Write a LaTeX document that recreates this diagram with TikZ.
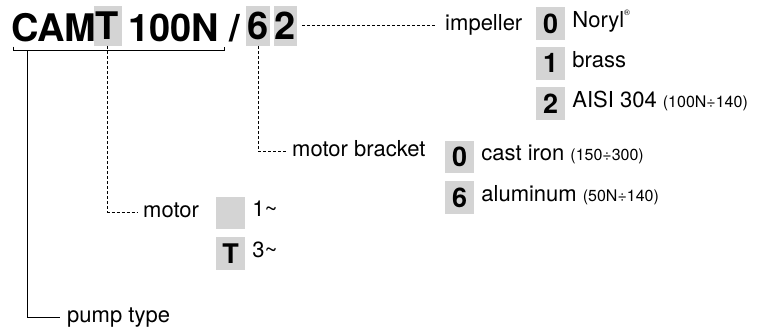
\documentclass[tikz,border=0pt]{standalone}
\usepackage{fontspec}
\setmainfont{TeX Gyre Heros}
\usepackage{xcolor}
\usetikzlibrary{positioning}
\definecolor{boxgray}{RGB}{212,212,212}

\tikzset{
  code/.style={font=\fontsize{38}{38}\selectfont\bfseries, inner sep=0pt, anchor=base west},
  codebox/.style={font=\fontsize{38}{38}\selectfont\bfseries, inner sep=0pt, fill=boxgray, minimum height=40pt},
  optbox/.style={fill=boxgray, minimum width=29pt, minimum height=32.5pt, inner sep=0pt, font=\fontsize{27}{27}\selectfont\bfseries},
  lbl/.style={font=\fontsize{22}{24}\selectfont, inner sep=0pt, text height=11.5pt, text depth=0pt, anchor=west},
  lead/.style={line width=0.7pt, dash pattern=on 3pt off 2pt},
  bracket/.style={line width=1pt}
}
\newcommand{\rng}[1]{{\fontsize{16}{16}\selectfont(#1)}}

\begin{document}
\begin{tikzpicture}[x=1pt,y=-1pt]
  \useasboundingbox (0,0) rectangle (768,327);

  % the code
  \node[code] (cam) at (11,41) {CAM};
  \node[codebox, minimum width=28pt] (tcode) at (107.5,26) {T};
  \node[code] (size) at (128,41) {100N};
  \node[code] (slash) at (229,41) {/};
  \node[codebox, minimum width=24pt] (bcode) at (258,26) {6};
  \node[codebox, minimum width=23pt] (icode) at (285.5,26) {2};

  % bracket under the pump type
  \coordinate (brl) at (13,50);
  \coordinate (brr) at (224,50);
  \coordinate (pumptap) at (27,50);
  \draw[bracket] ([yshift=3.5pt]brl) -- (brl) -- (brr) -- ([yshift=3.5pt]brr);

  % labels
  \node[lbl] (pump) at (67,317) {pump type};
  \node[lbl] (motor) at (143,212) {motor};
  \node[lbl] (mbracket) at (292,151) {motor bracket};
  \node[lbl] (imp) at (445,25) {impeller};

  \draw[bracket] (pumptap) |- ([xshift=-7pt]pump.west);
  \draw[lead] (tcode.south) |- ([xshift=-6pt]motor.west);
  \draw[lead] (bcode.south) |- ([xshift=-5pt]mbracket.west);
  \draw[lead] ([xshift=5pt]icode.east |- imp.west) -- ([xshift=-8pt]imp.west);

  % impeller options
  \node[optbox] (imp0) at (550.5,23.5) {0};
  \node[optbox, below=7pt of imp0] (imp1) {1};
  \node[optbox, below=7pt of imp1] (imp2) {2};
  \node[lbl, right=7pt of imp0, yshift=2pt] (imp0t) {Noryl\raisebox{0.55em}{\fontsize{8}{8}\selectfont ®}};
  \node[lbl, right=7pt of imp1, yshift=2pt] (imp1t) {brass};
  \node[lbl, right=7pt of imp2, yshift=2pt] (imp2t) {AISI 304 \rng{100N÷140}};

  % motor bracket options
  \node[optbox] (mb0) at (459.5,157) {0};
  \node[optbox, below=7.5pt of mb0] (mb6) {6};
  \node[lbl, right=7pt of mb0, yshift=2pt] (mb0t) {cast iron \rng{150÷300}};
  \node[lbl, right=7pt of mb6, yshift=2pt] (mb6t) {aluminum \rng{50N÷140}};

  % motor options
  \node[optbox] (mot1) at (230.5,213) {};
  \node[optbox, below=7.5pt of mot1] (mot3) {T};
  \node[lbl, right=7pt of mot1, yshift=2pt] (mot1t) {1\textasciitilde};
  \node[lbl, right=7pt of mot3, yshift=2pt] (mot3t) {3\textasciitilde};
\end{tikzpicture}
\end{document}
